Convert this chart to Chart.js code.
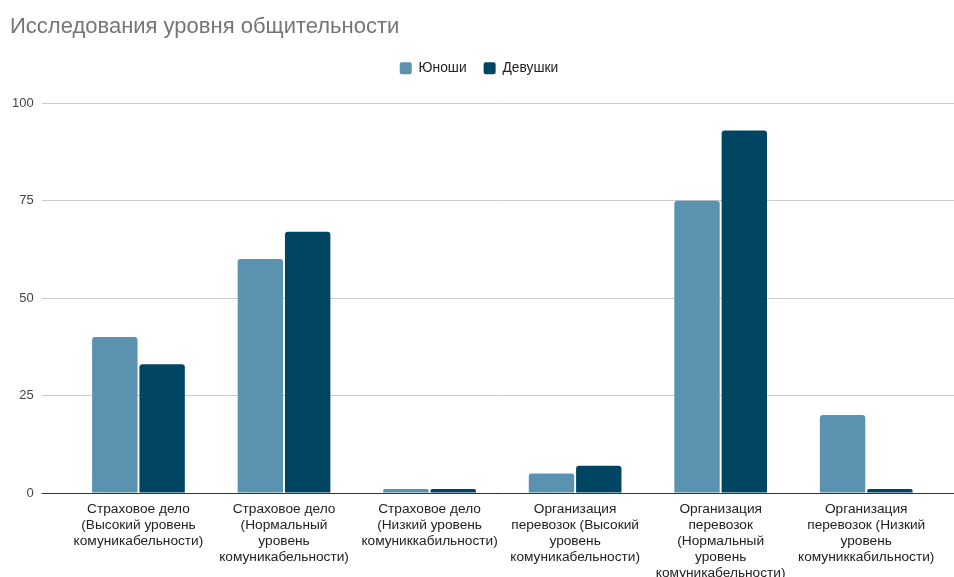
<!DOCTYPE html>
<html>
<head>
<meta charset="utf-8">
<script src="https://cdn.jsdelivr.net/npm/chart.js@4.4.1/dist/chart.umd.min.js"></script>
<style>
    body { margin: 0; background: #fff; }
    #wrap { width: 954px; height: 577px; }
</style>
</head>
<body>
<div id="wrap"><canvas id="studyChart"></canvas></div>
<script>
// data
const categories = [
    ['Страховое дело', '(Высокий уровень', 'комуникабельности)'],
    ['Страховое дело', '(Нормальный', 'уровень', 'комуникабельности)'],
    ['Страховое дело', '(Низкий уровень', 'комуниккабильности)'],
    ['Организация', 'перевозок (Высокий', 'уровень', 'комуникабельности)'],
    ['Организация', 'перевозок', '(Нормальный', 'уровень', 'комуникабельности)'],
    ['Организация', 'перевозок (Низкий', 'уровень', 'комуниккабильности)']
];
const boys = [40, 60, 1, 5, 75, 20];
const girls = [33, 67, 1, 7, 93, 1];
const yTicks = [0, 25, 50, 75, 100];

const fontFamily = '"Liberation Sans", Arial, sans-serif';
const gridColor = function (ctx) {
    return ctx.tick && ctx.tick.value === 0 ? '#333333' : '#cccccc';
};

// small layout tweaks: gap under the legend, title x position
const layoutTweaks = {
    id: 'layoutTweaks',
    afterInit(chart) {
        const legend = chart.legend;
        const fit = legend.fit;
        legend.fit = function () {
            fit.call(this);
            this.height += 18;
        };
    },
    beforeDraw(chart) {
        chart.titleBlock.left = 10;
    }
};

const ctx = document.getElementById('studyChart').getContext('2d');

new Chart(ctx, {
    type: 'bar',
    data: {
        labels: categories,
        datasets: [
            {
                label: 'Юноши',
                data: boys,
                backgroundColor: '#5a92b0',
                borderRadius: { topLeft: 3, topRight: 3 },
                borderSkipped: 'bottom'
            },
            {
                label: 'Девушки',
                data: girls,
                backgroundColor: '#004663',
                borderRadius: { topLeft: 3, topRight: 3 },
                borderSkipped: 'bottom'
            }
        ]
    },
    plugins: [layoutTweaks],
    options: {
        responsive: true,
        maintainAspectRatio: false,
        animation: false,
        categoryPercentage: 0.65,
        barPercentage: 0.96,
        layout: { padding: { left: 4, right: 0, top: 0, bottom: -12 } },
        plugins: {
            title: {
                display: true,
                text: 'Исследования уровня общительности',
                align: 'start',
                color: '#757575',
                font: { family: fontFamily, size: 22, weight: 'normal' },
                padding: { top: 14, bottom: 4 }
            },
            legend: {
                position: 'top',
                labels: {
                    boxWidth: 12,
                    boxHeight: 12,
                    useBorderRadius: true,
                    borderRadius: 2,
                    color: '#222222',
                    padding: 17,
                    font: { family: fontFamily, size: 13.8 }
                }
            },
            tooltip: { enabled: false }
        },
        scales: {
            x: {
                grid: { display: false, drawTicks: false },
                border: { display: false },
                ticks: {
                    color: '#222222',
                    padding: 8,
                    maxRotation: 0,
                    autoSkip: false,
                    font: { family: fontFamily, size: 13.7, lineHeight: '16px' }
                }
            },
            y: {
                min: 0,
                max: 100,
                afterBuildTicks: function (axis) {
                    axis.ticks = yTicks.map(v => ({ value: v }));
                },
                grid: { color: gridColor, tickLength: 24 },
                border: { display: false },
                ticks: {
                    color: '#444444',
                    padding: 8,
                    font: { family: fontFamily, size: 13 }
                }
            },
            yRight: {
                position: 'right',
                min: 0,
                max: 100,
                afterBuildTicks: function (axis) {
                    axis.ticks = yTicks.map(v => ({ value: v }));
                },
                grid: { color: gridColor, tickLength: 15, drawOnChartArea: false },
                border: { display: false },
                ticks: { display: false }
            }
        }
    }
});
</script>
</body>
</html>
